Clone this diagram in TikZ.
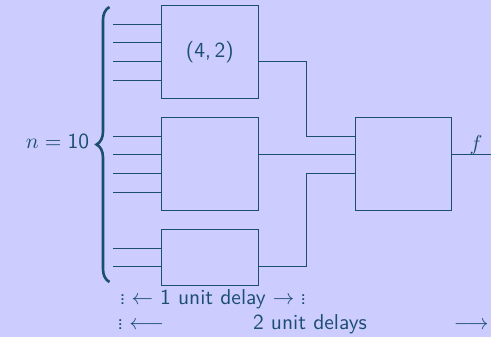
\documentclass[tikz,border=0pt]{standalone}
\usetikzlibrary{decorations.pathreplacing}
\definecolor{bg}{RGB}{204,204,255}
\definecolor{ink}{RGB}{28,78,112}
\makeatletter
\newcommand\smvdots{\vbox{\baselineskip2\p@\lineskiplimit\z@\hbox{.}\hbox{.}\hbox{.}}}
\makeatother
\tikzset{
  blk/.style={draw, rectangle, inner sep=0pt, minimum width=97pt},
  lbl/.style={inner sep=0pt, font=\sffamily\fontsize{10}{12}\selectfont, scale=2.15},
  wire/.style={line width=0.9pt},
  bracestyle/.style={decorate, decoration={brace, amplitude=13pt, aspect=0.5}, line width=2.6pt}
}
\begin{document}
\begin{tikzpicture}[x=1pt, y=-1pt, color=ink]
  \fill[bg] (0,0) rectangle (491,337);
  \useasboundingbox (0,0) rectangle (491,337);

  % blocks
  \node[blk, wire, minimum height=93.33pt] (b1) at (209.8,52) {};
  \node[lbl] (t1) at (209.8,52) {(4,\,2)};
  \node[blk, wire, minimum height=93.33pt] (b2) at (209.8,164) {};
  \node[blk, wire, minimum height=56pt] (b3) at (209.8,257.33) {};
  \node[blk, wire, minimum width=96.4pt, minimum height=93.33pt] (b4) at (403.5,164) {};

  % inputs
  \foreach \y in {24,42.67,61.33,80,136,154.67,173.33,192,248,266.67}
    \draw[wire] (113.3,\y) -- (113.3,\y -| b1.west);

  % connectors between levels
  \coordinate (j1) at (306.7,61.33);
  \coordinate (j3) at (306.7,266.67);
  \draw[wire] (b1.east |- j1) -- (j1) |- (b4.west |- 0,136);
  \draw[wire] (b2.east |- 0,154.67) -- (b4.west |- 0,154.67);
  \draw[wire] (b3.east |- j3) -- (j3) |- (b4.west |- 0,173.33);

  % output
  \coordinate (out) at (491,154.67);
  \draw[wire] (b4.east |- out) -- (out);
  \node[lbl, anchor=base] (f) at (476,151) {$f$};

  % brace and n
  \draw[bracestyle] (109.5,282) -- (109.5,7);
  \node[lbl, anchor=base] (n) at (57.5,149) {$n=\mathsf{10}$};

  % delay labels
  \node[lbl, anchor=base] (d1) at (213,305) {$\smvdots\leftarrow$ 1 unit delay $\rightarrow\smvdots$};
  \node[lbl, anchor=base west] (d2l) at (117,330) {$\smvdots\longleftarrow$};
  \node[lbl, anchor=base] (d2) at (310,330) {2 unit delays};
  \node[lbl, anchor=base east] (d2r) at (489,330) {$\longrightarrow$};
\end{tikzpicture}
\end{document}
